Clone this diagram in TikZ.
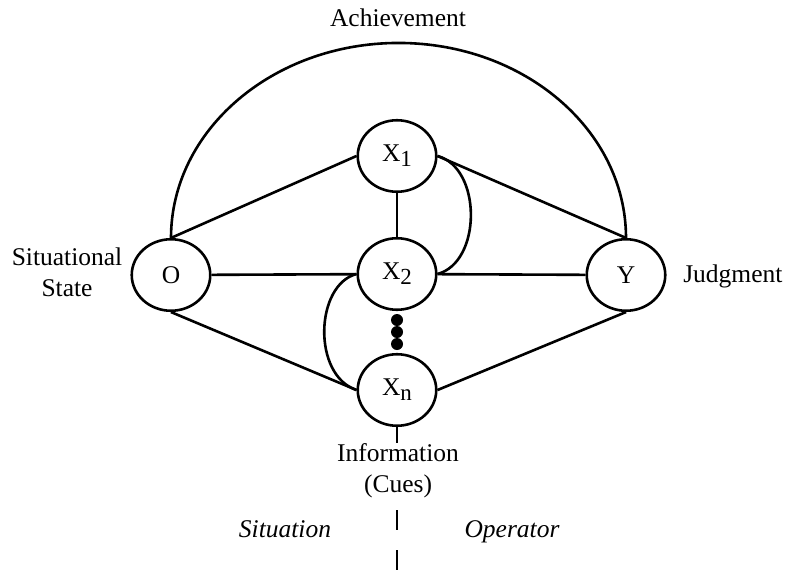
\documentclass[tikz,border=0pt]{standalone}
\usepackage{fontspec}
\setmainfont{Liberation Serif}
\usetikzlibrary{shapes.geometric}
% lowered index digit/letter after a variable name
\newcommand\lowidx[1]{\raisebox{-5pt}{\fontsize{23}{23}\selectfont #1}}
\begin{document}
\begin{tikzpicture}[x=1pt,y=-1pt,
  line width=2.6pt,
  var/.style={draw, ellipse, minimum width=78.5pt, minimum height=71.5pt,
    inner sep=0pt, font=\fontsize{25.5}{30}\selectfont},
  lbl/.style={font=\fontsize{25.5}{31}\selectfont, inner sep=0pt},
  dotmark/.style={circle, fill, draw=none, inner sep=0pt, minimum size=12pt}]
\useasboundingbox (0,0) rectangle (785,573);

% variables of the lens model
\node[var] (O)  at (171,275) {O};
\node[var] (X1) at (397,156) {X\lowidx{1}};
\node[var] (X2) at (397,274) {X\lowidx{2}};
\node[var] (Xn) at (397,390) {X\lowidx{n}};
\node[var] (Y)  at (626,275) {Y};

% ellipsis between X2 and Xn
\node[dotmark] (d1) at (397,320) {};
\node[dotmark] (d2) at (397,332) {};
\node[dotmark] (d3) at (397,344) {};

% achievement arc
\draw (O.north) arc[start angle=180, end angle=0, x radius=227.5pt, y radius=195pt];

% straight links
\draw (O.north) -- (X1.west);
\draw (O) -- (X2);
\draw (O.south) -- (Xn.west);
\draw (X1) -- (X2);
\draw (X1.east) -- (Y.north);
\draw (X2) -- (Y);
\draw (Xn.east) -- (Y.south);

% intercorrelations between cues
\draw (X1.east) .. controls (482,168) and (482,262) .. (X2.east);
\draw (X2.west) .. controls (315,285) and (312,375) .. (Xn.west);

% divider between situation and operator
\coordinate (stubend) at (397,443);
\draw (Xn.south) -- (stubend);
\coordinate (cutA) at (397,510);
\coordinate (cutB) at (397,575);
\draw[dash pattern=on 20pt off 20pt] (cutA) -- (cutB);

% labels
\node[lbl, anchor=base] (ach) at (398,26) {Achievement};
\node[lbl, align=center] (sit) at (67,272) {Situational\\State};
\node[lbl, anchor=base west] (jud) at (682,282) {Judgment};
\node[lbl, align=center] (info) at (398,471) {Information\\(Cues)};
\node[lbl, anchor=base] (sitn) at (285,537) {\itshape Situation};
\node[lbl, anchor=base] (oper) at (512,537) {\itshape Operator};
\end{tikzpicture}
\end{document}
